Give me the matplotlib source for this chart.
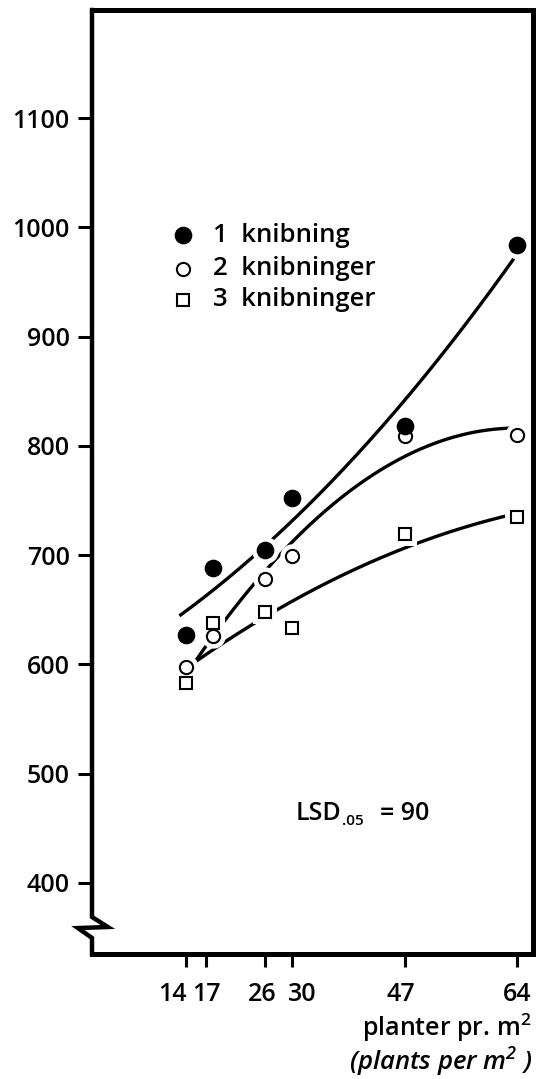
import numpy as np
import matplotlib
matplotlib.use("Agg")
import matplotlib.pyplot as plt
from matplotlib.transforms import ScaledTranslation
from matplotlib.lines import Line2D

plt.rcParams["font.family"] = ["Open Sans", "DejaVu Sans"]
plt.rcParams["font.weight"] = 600
plt.rcParams["mathtext.default"] = "regular"

# Plant density (plants per m2) and yield for each pinching treatment
density = [14, 18, 26, 30, 47, 64]
tick_density = [14, 17, 26, 30, 47, 64]
yield_1 = [627, 688, 705, 752, 818, 984]   # 1 knibning
yield_2 = [598, 626, 678, 699, 809, 810]   # 2 knibninger
yield_3 = [583, 638, 648, 633, 719, 735]   # 3 knibninger
labels = ["1  knibning", "2  knibninger", "3  knibninger"]
y_ticks = [400, 500, 600, 700, 800, 900, 1000, 1100]

W, H = 544, 1079
fig = plt.figure(figsize=(W / 100, H / 100), dpi=100)
left, right, bottom, top = 92, 533, 954, 10
ax = fig.add_axes([left / W, 1 - bottom / H, (right - left) / W, (bottom - top) / H])
ax.set_xlim(-0.2, 66.4)
ax.set_ylim(335, 1199)

# frame: thick top/right/bottom, left spine drawn by hand with a break
for s in ("top", "right", "bottom"):
    ax.spines[s].set_linewidth(3.6)
ax.spines["left"].set_visible(False)
ax.add_line(Line2D([0, 0, 0.036, -0.032, 0.0, 0.0],
                   [1.0, 0.0392, 0.0286, 0.0275, 0.017, 0.0],
                   transform=ax.transAxes, color="black", lw=3.2,
                   clip_on=False, solid_joinstyle="miter", zorder=6))

ax.set_yticks(y_ticks)
ax.set_yticklabels([str(v) for v in y_ticks])
ax.set_xticks(tick_density)
ax.set_xticklabels([str(v) for v in tick_density])
ax.tick_params(axis="y", direction="out", length=10, width=2.2, pad=6, labelsize=18)
ax.tick_params(axis="x", direction="out", length=9, width=2.2, pad=11, labelsize=18)

# nudge crowded density labels sideways
shifts = {"14": -14, "26": -3, "30": 10, "47": -4}
for lab in ax.get_xticklabels():
    dx = shifts.get(lab.get_text(), 0)
    if dx:
        lab.set_transform(lab.get_transform() + ScaledTranslation(dx / 100, 0, fig.dpi_scale_trans))

# quadratic trend curves fitted to each treatment
series = [
    (yield_1, dict(marker="o", ms=11.5, mfc="black", mec="black", mew=1.2), 13.0, 5),
    (yield_2, dict(marker="o", ms=9.5, mfc="white", mec="black", mew=1.5), 14.0, 4),
    (yield_3, dict(marker="s", ms=9.0, mfc="white", mec="black", mew=1.5), 14.0, 4),
]
for yv, mk, x0, z in series:
    coef = np.polyfit(density, yv, 2)
    xs = np.linspace(x0, 63.5, 200)
    ax.plot(xs, np.polyval(coef, xs), color="black", lw=2.4, solid_capstyle="butt", zorder=2)

# white halos break the curves around the markers
for yv, mk, x0, z in series:
    ax.plot(density, yv, linestyle="none", marker=mk["marker"], ms=mk["ms"] + 8,
            mfc="white", mec="white", mew=0, zorder=3)
for yv, mk, x0, z in series:
    ax.plot(density, yv, linestyle="none", zorder=z, **mk)

# legend drawn inside the frame
leg_x, txt_x = 13.5, 18.0
leg_y = [993, 962, 934]
for (yv, mk, x0, z), ly, lab in zip(series, leg_y, labels):
    ax.plot([leg_x], [ly], linestyle="none", zorder=z, **mk)
    ax.text(txt_x, ly, lab, fontsize=18.5, va="center", ha="left")

# LSD note with a small subscript
lsd_x, lsd_y = 30.5, 458
t_lsd = ax.text(lsd_x, lsd_y, "LSD", fontsize=18, va="baseline", ha="left")
fig.canvas.draw()
bb = t_lsd.get_window_extent()
base = ax.transData.transform((lsd_x, lsd_y))[1]
inv = fig.transFigure.inverted()
sx, sy = inv.transform((bb.x1 + 1, base - 5))
fig.text(sx, sy, ".05", fontsize=11, va="baseline", ha="left")
ex, ey = inv.transform((bb.x1 + 39, base))
fig.text(ex, ey, "= 90", fontsize=18, va="baseline", ha="left")

fig.text(532 / W, 1 - 1028 / H, "planter pr. m$^2$", fontsize=18, ha="right", va="center")
fig.text(532 / W, 1 - 1062 / H, "(plants per m$^2$ )", fontsize=18.5, ha="right", va="center",
         style="italic")

fig.savefig("out.png", dpi=100, facecolor="white")
